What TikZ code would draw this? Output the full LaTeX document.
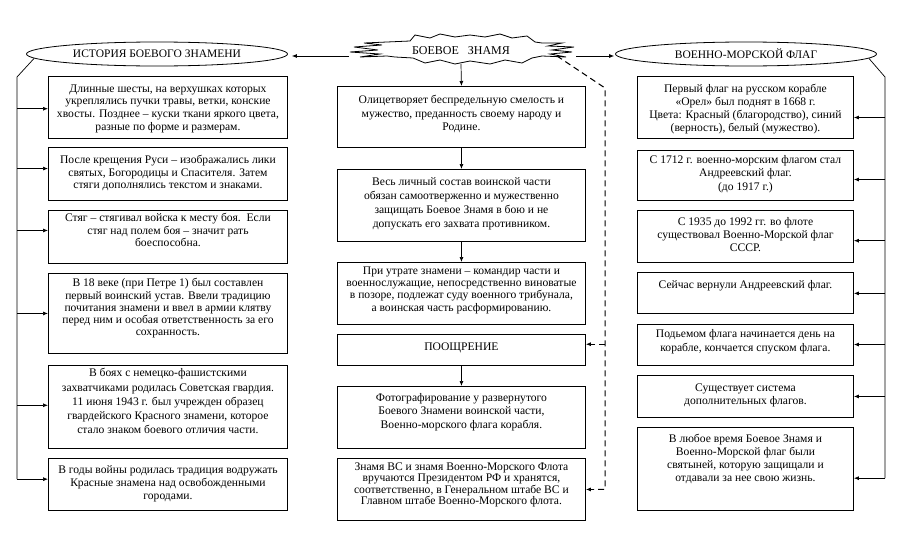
\documentclass[tikz,border=0pt]{standalone}
\usepackage{fontspec}
\setmainfont{Liberation Serif}
\usetikzlibrary{arrows.meta,calc,shapes.geometric}
% \bt{top pad}{line skip}{width}{height}{text}
\newcommand\bt[5]{\parbox[c][#4pt][t]{#3pt}{\fontsize{11.6}{#2}\selectfont\vspace*{#1pt}\centering #5\par}}
\tikzset{
  bx/.style={draw, inner sep=0pt, line width=0.9pt, anchor=north west},
  ell/.style={draw, ellipse, inner sep=0pt, line width=0.8pt, minimum width=261pt, minimum height=24pt, font=\fontsize{11.5}{13}\selectfont},
  conn/.style={line width=0.7pt},
  arr/.style={line width=0.7pt, -{Latex[length=5pt,width=4pt]}},
  dsh/.style={line width=1pt, dash pattern=on 6pt off 4pt}
}
\begin{document}
\begin{tikzpicture}[x=1pt,y=-1pt]
\useasboundingbox (0,0) rectangle (905,533);
% ellipses
\node[ell] (le) at (157,54) {ИСТОРИЯ БОЕВОГО ЗНАМЕНИ};
\node[ell] (re) at (746,54) {ВОЕННО-МОРСКОЙ ФЛАГ};
% burst
\draw[line width=0.8pt, fill=white] (387,42) -- (410,41) -- (415,35) -- (430,38) -- (440,34) -- (455,37) -- (470,35) -- (485,37) -- (500,34) -- (512,38) -- (527,36) -- (535,42) -- (542,43)
 -- (562,43) -- (548,46) -- (574,47) -- (552,50) -- (572,52) -- (550,54) -- (566,57) -- (542,56)
 -- (532,58) -- (522,63) -- (505,60) -- (490,64) -- (470,61) -- (455,64) -- (440,60) -- (425,63) -- (413,58) -- (395,57) -- (387,56)
 -- (360,57) -- (380,54) -- (350,52) -- (378,50) -- (354,47) -- (382,45) -- (364,43) -- cycle;
\node[font=\fontsize{12}{14}\selectfont] (bz) at (461,50.5) {БОЕВОЕ\ \ \ ЗНАМЯ};
% left boxes
\node[bx] (l1) at (48,76) {\bt{8}{12.8}{239}{62}{Длинные шесты, на верхушках которых\\ укреплялись пучки травы, ветки, конские\\ хвосты. Позднее – куски ткани яркого цвета,\\ разные по форме и размерам.}};
\node[bx] (l2) at (48,147) {\bt{8}{12.5}{239}{53}{После крещения Руси – изображались лики\\ святых, Богородицы и Спасителя. Затем\\ стяги дополнялись текстом и знаками.}};
\node[bx] (l3) at (48,210) {\bt{3}{12.5}{239}{53}{Стяг – стягивал войска к месту боя.\ \ Если\\ стяг над полем боя – значит рать\\ боеспособна.}};
\node[bx] (l4) at (48,273) {\bt{5}{12.3}{239}{80}{В 18 веке (при Петре 1) был составлен\\ первый воинский устав. Ввели традицию\\ почитания знамени и ввел в армии клятву\\ перед ним и особая ответственность за его\\ сохранность.}};
\node[bx] (l5) at (48,365) {\bt{3}{14.3}{239}{83}{В боях с немецко-фашистскими\\ захватчиками родилась Советская гвардия.\\ 11 июня 1943 г. был учрежден образец\\ гвардейского Красного знамени, которое\\ стало знаком боевого отличия части.}};
\node[bx] (l6) at (48,458) {\bt{7.5}{13}{239}{52}{В годы войны родилась традиция водружать\\ Красные знамена над освобожденными\\ городами.}};
% center boxes
\node[bx] (c1) at (337,86) {\bt{9}{13.3}{248}{61}{Олицетворяет беспредельную смелость и\\ мужество, преданность своему народу и\\ Родине.}};
\node[bx] (c2) at (337,169) {\bt{8}{14}{248}{72}{Весь личный состав воинской части\\ обязан самоотверженно и мужественно\\ защищать Боевое Знамя в бою и не\\ допускать его захвата противником.}};
\node[bx] (c3) at (337,262) {\bt{4.5}{12.2}{248}{62}{При утрате знамени – командир части и\\ военнослужащие, непосредственно виноватые\\ в позоре, подлежат суду военного трибунала,\\ а воинская часть расформированию.}};
\node[bx] (c4) at (337,334) {\bt{8}{13}{248}{31}{ПООЩРЕНИЕ}};
\node[bx] (c5) at (337,386) {\bt{7}{13.3}{248}{62}{Фотографирование у развернутого\\ Боевого Знамени воинской части,\\ Военно-морского флага корабля.}};
\node[bx] (c6) at (337,458) {\bt{4}{11.5}{248}{62}{Знамя ВС и знамя Военно-Морского Флота\\ вручаются Президентом РФ и хранятся,\\ соответственно, в Генеральном штабе ВС и\\ Главном штабе Военно-Морского флота.}};
% right boxes
\node[bx] (r1) at (637,76) {\bt{8}{12.8}{216}{62}{Первый флаг на русском корабле\\ «Орел» был поднят в 1668 г.\\ Цвета: Красный (благородство), синий\\ (верность), белый (мужество).}};
\node[bx] (r2) at (637,150) {\bt{5}{13.3}{216}{50}{С 1712 г. военно-морским флагом стал\\ Андреевский флаг.\\ (до 1917 г.)}};
\node[bx] (r3) at (637,210) {\bt{6.5}{13.3}{216}{52}{С 1935 до 1992 гг. во флоте\\ существовал Военно-Морской флаг\\ СССР.}};
\node[bx] (r4) at (637,272) {\bt{8}{13}{216}{41}{Сейчас вернули Андреевский флаг.}};
\node[bx] (r5) at (637,324) {\bt{5}{14}{216}{41}{Подьемом флага начинается день на\\ корабле, кончается спуском флага.}};
\node[bx] (r6) at (637,375) {\bt{8}{13.3}{216}{42}{Существует система\\ дополнительных флагов.}};
\node[bx] (r7) at (637,427) {\bt{6.3}{13.3}{216}{83}{В любое время Боевое Знамя и\\ Военно-Морской флаг были\\ святыней, которую защищали и\\ отдавали за нее свою жизнь.}};
% left trunk
\coordinate (lt) at (17,77);
\coordinate (a1) at ($(l1.north west)!0.52!(l1.south west)$);
\coordinate (a2) at ($(l2.north west)!0.40!(l2.south west)$);
\coordinate (a3) at ($(l3.north west)!0.38!(l3.south west)$);
\coordinate (a4) at ($(l4.north west)!0.50!(l4.south west)$);
\coordinate (a5) at ($(l5.north west)!0.48!(l5.south west)$);
\coordinate (a6) at ($(l6.north west)!0.40!(l6.south west)$);
\draw[conn] (le.182) -- (lt) -- (lt |- a6);
\foreach \p in {a1,a2,a3,a4,a5,a6} \draw[arr] (lt |- \p) -- (\p);
% right trunk
\coordinate (rt) at (885,77);
\coordinate (b1) at ($(r1.north east)!0.66!(r1.south east)$);
\coordinate (b2) at ($(r2.north east)!0.58!(r2.south east)$);
\coordinate (b3) at ($(r3.north east)!0.58!(r3.south east)$);
\coordinate (b4) at ($(r4.north east)!0.51!(r4.south east)$);
\coordinate (b5) at ($(r5.north east)!0.49!(r5.south east)$);
\coordinate (b6) at ($(r6.north east)!0.50!(r6.south east)$);
\coordinate (b7) at ($(r7.north east)!0.61!(r7.south east)$);
\draw[conn] (re.358) -- (rt) -- (rt |- b7);
\foreach \p in {b1,b2,b3,b4,b5,b6,b7} \draw[arr] (rt |- \p) -- (\p);
% burst connectors
\coordinate (bl) at (349,56);
\coordinate (br) at (576,56);
\coordinate (bb) at (461,64);
\coordinate (lea) at ([xshift=4pt]le.east);
\coordinate (rea) at ([xshift=-1pt]re.west);
\draw[arr] (bl) -- (lea |- bl);
\draw[arr] (br) -- (rea |- br);
\draw[arr] (bb) -- (c1.north);
\draw[arr] (c1.south) -- (c2.north);
\draw[arr] (c2.south) -- (c3.north);
\draw[arr] (c4.south) -- (c5.north);
% dashed
\coordinate (bd) at (557,56);
\coordinate (dt) at (605,88);
\coordinate (d4) at ($(c4.north east)!0.32!(c4.south east)$);
\draw[dsh] (bd) -- (dt) -- (dt |- c6.east) -- ([xshift=8pt]c6.east);
\draw[arr] ([xshift=8pt]c6.east) -- (c6.east);
\draw[dsh] (dt |- d4) -- ([xshift=8pt]d4);
\draw[arr] ([xshift=8pt]d4) -- (d4);
\end{tikzpicture}
\end{document}
